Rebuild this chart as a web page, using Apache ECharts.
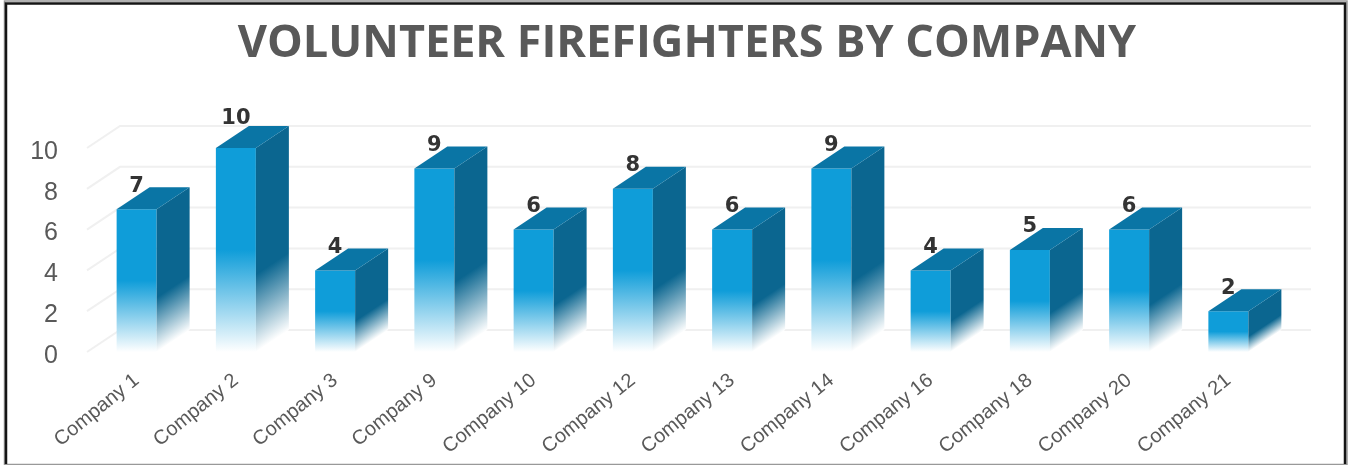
<!DOCTYPE html>
<html><head><meta charset="utf-8">
<style>html,body{margin:0;padding:0;background:#fff}#c{width:1348px;height:465px}</style>
<script src="https://cdn.jsdelivr.net/npm/echarts@6/dist/echarts.min.js"></script>
</head><body><div id="c"></div>
<script>
const categories = ["Company 1","Company 2","Company 3","Company 9","Company 10","Company 12","Company 13","Company 14","Company 16","Company 18","Company 20","Company 21"];
const volunteers = [7,10,4,9,6,8,6,9,4,5,6,2];
const yTicks = [0,2,4,6,8,10];
const titleText = "VOLUNTEER FIREFIGHTERS BY COMPANY";

const DX = 33, DY = -22, BAR = 40;
const chart = echarts.init(document.getElementById('c'), null, {renderer:'canvas'});

function fadeFill(px, py, len, color) {
  // gradient whose iso-lines run parallel to the depth edge (px,py is the bottom corner)
  const m = Math.hypot(DY, DX), nx = -DY / m, ny = DX / m;
  const t = len * ny;
  return new echarts.graphic.LinearGradient(px - nx * t, py - ny * t, px, py, [
    {offset:0, color:color},{offset:1, color:'#ffffff'}
  ], true);
}

function renderBar(params, api) {
  const i = api.value(0), v = api.value(1);
  const top = api.coord([i, v]), base = api.coord([i, 0]);
  const x0 = top[0] - BAR / 2, x1 = top[0] + BAR / 2, yT = top[1], yB = base[1];
  const h = yB - yT;
  const labelY = yT - 23 - (v >= 10 ? 6 : 0);
  return {type:'group', children:[
    {type:'rect', shape:{x:x0, y:yT, width:BAR, height:h}, style:{fill:new echarts.graphic.LinearGradient(0,0,0,1,[
      {offset:0,color:'#0f9dd9'},{offset:0.5,color:'#0f9dd9'},{offset:1,color:'#ffffff'}])}},
    {type:'polygon', shape:{points:[[x1,yT],[x1+DX,yT+DY],[x1+DX,yB+DY],[x1,yB]]}, style:{fill:fadeFill(x1,yB,h*0.38,'#0b6690')}},
    {type:'polygon', shape:{points:[[x0,yT],[x0+DX,yT+DY],[x1+DX,yT+DY],[x1,yT]]}, style:{fill:'#0a75a5'}},
    {type:'text', style:{x:top[0], y:labelY, text:String(v), align:'center', verticalAlign:'middle',
      fontFamily:'"DejaVu Sans"', fontWeight:'bold', fontSize:21, fill:'#333333'}}
  ]};
}

function renderWall(params, api) {
  const c = api.coord([0, api.value(0)]);
  const cs = params.coordSys;
  return {type:'polyline', shape:{points:[[cs.x,c[1]],[cs.x+DX,c[1]+DY],[cs.x+cs.width+DX,c[1]+DY]]},
    style:{fill:null, stroke:'#f0f0f0', lineWidth:2}};
}

chart.setOption({
  animation:false,
  backgroundColor:'#ffffff',
  title:{text:titleText, left:682, top:17, textAlign:'center',
    textStyle:{fontFamily:'"Open Sans"', fontWeight:'bold', fontSize:45, color:'#595959'}},
  grid:{left:87, top:148, width:1191, height:204},
  xAxis:{type:'category', data:categories, axisLine:{show:false}, axisTick:{show:false},
    axisLabel:{rotate:39, interval:0, margin:26, fontFamily:'"Liberation Sans"', fontSize:20, color:'#595959'}},
  yAxis:{type:'value', min:0, max:10, interval:2, splitLine:{show:false}, axisLine:{show:false}, axisTick:{show:false},
    axisLabel:{margin:29, formatter:'{a|{value}}',
      rich:{a:{padding:[8,0,0,0], fontFamily:'"Liberation Sans"', fontSize:25, color:'#595959'}}}},
  graphic:[
    {type:'rect', z:100, silent:true, shape:{x:4.5,y:1,width:1342.5,height:463.5}, style:{fill:null, stroke:'#999999', lineWidth:1.5}},
    {type:'polyline', z:101, silent:true, shape:{points:[[6,464],[6,3.5],[1345,3.5],[1345,464]]}, style:{fill:null, stroke:'#151515', lineWidth:2.5}}
  ],
  series:[
    {type:'custom', z:1, silent:true, renderItem:renderWall, data:yTicks.map(t=>[t]), encode:{y:0}, clip:false},
    {type:'custom', z:2, silent:true, renderItem:renderBar, data:volunteers.map((v,i)=>[i,v]), encode:{x:0,y:1}, clip:false}
  ]
});
</script></body></html>
